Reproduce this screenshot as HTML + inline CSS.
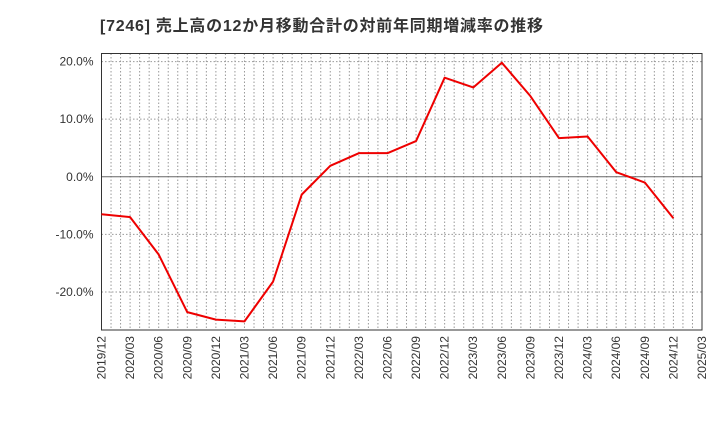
<!DOCTYPE html>
<html><head><meta charset="utf-8"><style>
body{margin:0;background:#fff;width:720px;height:440px;overflow:hidden}
text{font-family:"Liberation Sans","Noto Sans CJK JP",sans-serif}
</style></head><body>
<svg id="c" width="720" height="440">
<text x="100" y="31" font-size="16" font-weight="bold" fill="#333" textLength="443" lengthAdjust="spacing">[7246]  売上高の12か月移動合計の対前年同期増減率の推移</text>
</svg>
<script>
const categories=["2019/12","2020/03","2020/06","2020/09","2020/12","2021/03","2021/06","2021/09","2021/12","2022/03","2022/06","2022/09","2022/12","2023/03","2023/06","2023/09","2023/12","2024/03","2024/06","2024/09","2024/12"];
const xTickLabels=["2019/12","2020/03","2020/06","2020/09","2020/12","2021/03","2021/06","2021/09","2021/12","2022/03","2022/06","2022/09","2022/12","2023/03","2023/06","2023/09","2023/12","2024/03","2024/06","2024/09","2024/12","2025/03"];
const values=[-6.5,-7.0,-13.5,-23.5,-24.8,-25.1,-18.2,-3.1,1.9,4.1,4.1,6.2,17.2,15.5,19.8,14.0,6.7,7.0,0.8,-1.0,-7.2];
const yTicks=[20,10,0,-10,-20];
const L=101.5,R=702,T=53.5,B=330;
const yMin=-26.6,yMax=21.4;
const nQ=xTickLabels.length-1;
const xs=i=>L+(R-L)*i/nQ;
const ys=v=>B-(v-yMin)/(yMax-yMin)*(B-T);
const svg=document.getElementById('c');const NS="http://www.w3.org/2000/svg";
function mk(t,a,p){const e=document.createElementNS(NS,t);for(const k in a)e.setAttribute(k,a[k]);(p||svg).appendChild(e);return e;}
const g=mk('g',{});


for(let m=1;m<nQ*3;m++){const x=L+(R-L)*m/(nQ*3);mk('line',{x1:x,x2:x,y1:T,y2:B,stroke:'#999','stroke-dasharray':'1.5,2','stroke-width':1},g);}
yTicks.forEach(v=>{const y=ys(v);
const ln=mk('line',{x1:L,x2:R,y1:y,y2:y,stroke:v===0?'#666':'#999','stroke-dasharray':v===0?'none':'1.5,2','stroke-width':1},g);
const t=mk('text',{x:L-8,y:y+4,'text-anchor':'end','font-size':12,fill:'#333'});t.textContent=v.toFixed(1)+'%';

});
xTickLabels.forEach((s,i)=>{const x=xs(i);const t=mk('text',{x:0,y:0,'text-anchor':'end','font-size':12,fill:'#333',transform:`translate(${x+4},${B+6}) rotate(-90)`});t.textContent=s;

});
const fr=mk('rect',{x:L,y:T,width:R-L,height:B-T,fill:'none',stroke:'#333','stroke-width':1});


const pl=mk('polyline',{points:values.map((v,i)=>xs(i)+','+ys(v)).join(' '),fill:'none',stroke:'#ee0000','stroke-width':2,'stroke-linejoin':'round'});


</script>
</body></html>
